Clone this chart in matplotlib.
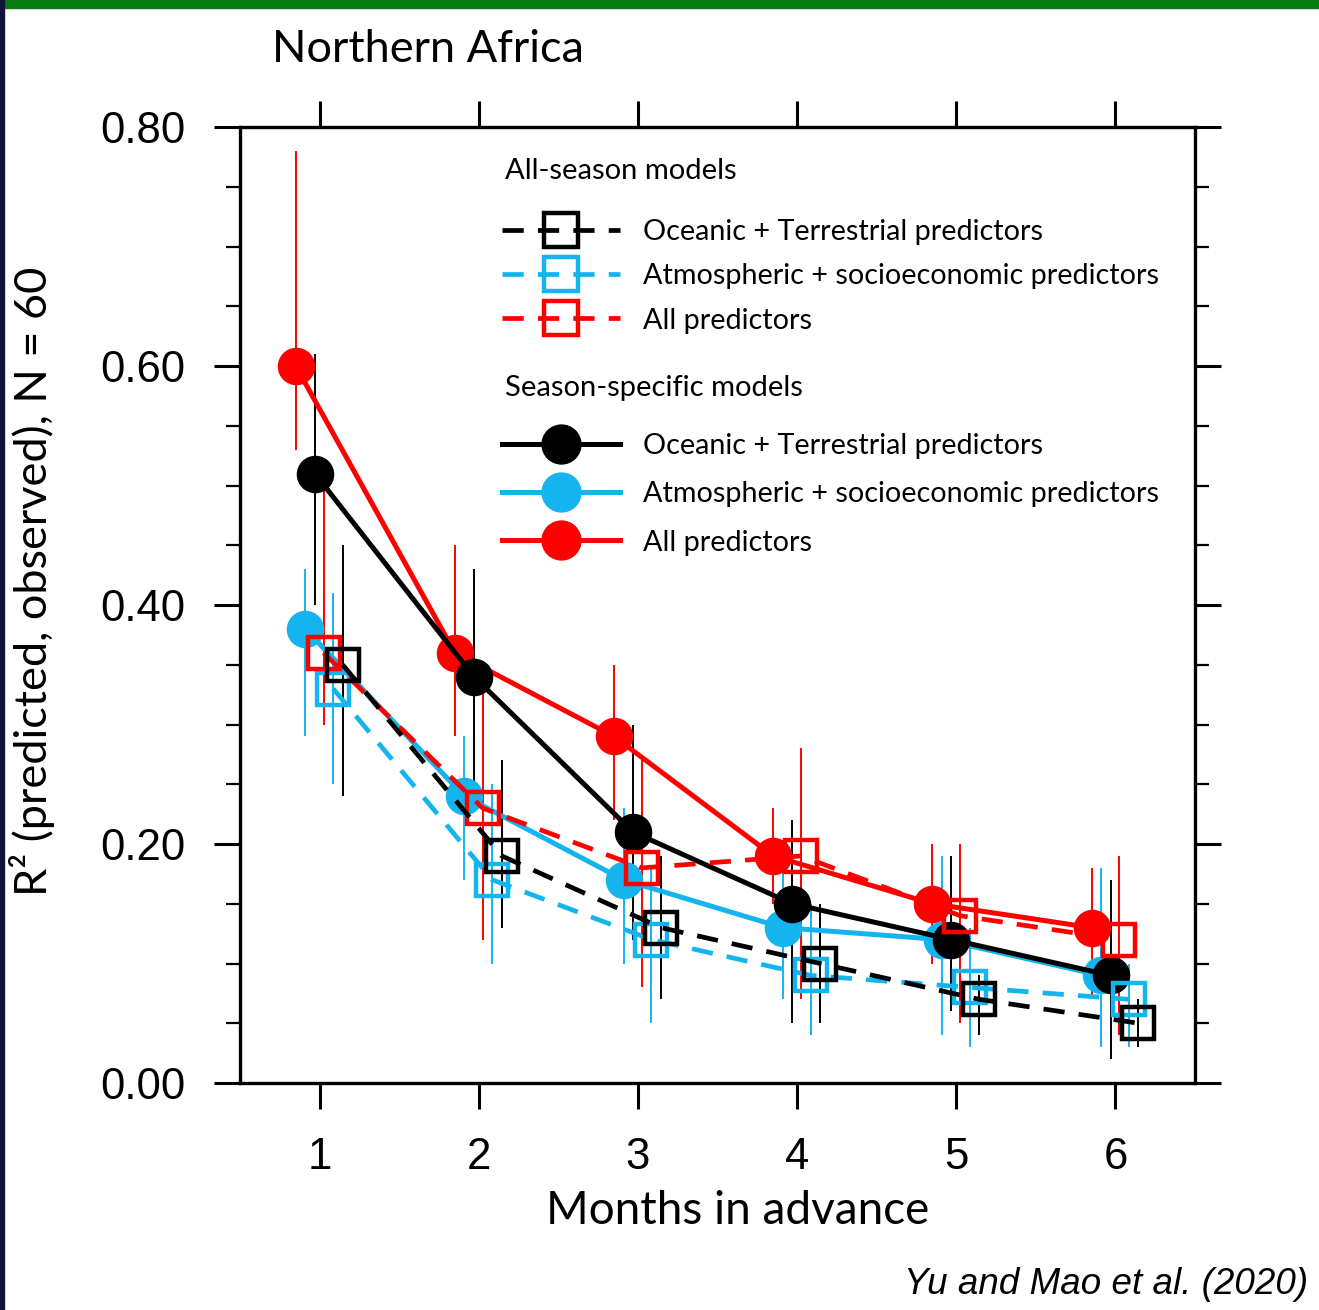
import numpy as np
import matplotlib.pyplot as plt
import matplotlib.ticker as ticker
from matplotlib.lines import Line2D
from matplotlib.patches import Rectangle

plt.rcParams['font.family'] = ['Liberation Sans', 'DejaVu Sans']
LATO = ['Lato', 'DejaVu Sans']

months = [1, 2, 3, 4, 5, 6]

# Season-specific models (filled circles, solid lines)
ss_all = [0.60, 0.36, 0.29, 0.19, 0.15, 0.13]
ss_all_lo = [0.53, 0.29, 0.22, 0.15, 0.10, 0.07]
ss_all_hi = [0.78, 0.45, 0.35, 0.23, 0.20, 0.18]

ss_atmo = [0.38, 0.24, 0.17, 0.13, 0.12, 0.09]
ss_atmo_lo = [0.29, 0.17, 0.10, 0.07, 0.04, 0.03]
ss_atmo_hi = [0.43, 0.29, 0.23, 0.20, 0.19, 0.18]

ss_ocean = [0.51, 0.34, 0.21, 0.15, 0.12, 0.09]
ss_ocean_lo = [0.40, 0.24, 0.12, 0.05, 0.06, 0.02]
ss_ocean_hi = [0.61, 0.43, 0.30, 0.22, 0.19, 0.17]

# All-season models (open squares, dashed lines)
as_all = [0.36, 0.23, 0.18, 0.19, 0.14, 0.12]
as_all_lo = [0.30, 0.12, 0.08, 0.07, 0.05, 0.04]
as_all_hi = [0.51, 0.33, 0.27, 0.28, 0.20, 0.19]

as_atmo = [0.33, 0.17, 0.12, 0.09, 0.08, 0.07]
as_atmo_lo = [0.25, 0.10, 0.05, 0.04, 0.03, 0.03]
as_atmo_hi = [0.41, 0.25, 0.18, 0.15, 0.13, 0.10]

as_ocean = [0.35, 0.19, 0.13, 0.10, 0.07, 0.05]
as_ocean_lo = [0.24, 0.13, 0.07, 0.05, 0.04, 0.03]
as_ocean_hi = [0.45, 0.27, 0.19, 0.15, 0.09, 0.07]

RED = '#ff0000'
CYAN = '#14b4ef'
BLACK = '#000000'
DASH = (0, (4.5, 3))

# label, x-offset, values, low, high, colour, filled marker?
series = [
    ('Atmospheric + socioeconomic predictors', -0.09, ss_atmo, ss_atmo_lo, ss_atmo_hi, CYAN, True),
    ('All predictors', -0.15, ss_all, ss_all_lo, ss_all_hi, RED, True),
    ('Oceanic + Terrestrial predictors', -0.03, ss_ocean, ss_ocean_lo, ss_ocean_hi, BLACK, True),
    ('Atmospheric + socioeconomic predictors', 0.085, as_atmo, as_atmo_lo, as_atmo_hi, CYAN, False),
    ('All predictors', 0.025, as_all, as_all_lo, as_all_hi, RED, False),
    ('Oceanic + Terrestrial predictors', 0.145, as_ocean, as_ocean_lo, as_ocean_hi, BLACK, False),
]

fig = plt.figure(figsize=(13.19, 13.10), dpi=100)
ax = fig.add_axes([240 / 1319, 1 - 1083 / 1310, 955 / 1319, 956 / 1310])

x = np.array(months, dtype=float)
z = 3
for label, off, y, lo, hi, col, filled in series:
    xs = x + off
    ax.vlines(xs, lo, hi, color=col, lw=1.4, zorder=2)
    if filled:
        ax.plot(xs, y, '-', color=col, lw=3.6, marker='o', ms=26,
                mfc=col, mec=col, zorder=z)
    else:
        ax.plot(xs, y, color=col, lw=3.4, ls=DASH, marker='s', ms=23.5,
                mfc='none', mec=col, mew=3.2, zorder=z)
    z += 1

ax.set_xlim(0.5, 6.5)
ax.set_ylim(0, 0.8)
ax.set_xticks(months)
ax.yaxis.set_major_locator(ticker.MultipleLocator(0.2))
ax.yaxis.set_minor_locator(ticker.MultipleLocator(0.05))
ax.yaxis.set_major_formatter(ticker.FormatStrFormatter('%.2f'))
ax.tick_params(which='major', direction='out', length=19, width=2.2,
               top=True, right=True, labelsize=31.5)
ax.tick_params(axis='y', which='major', pad=20)
ax.tick_params(axis='x', which='major', pad=20)
ax.tick_params(axis='y', which='minor', direction='out', length=10, width=1.6,
               left=True, right=True)
for s in ax.spines.values():
    s.set_linewidth(2.4)

ax.set_xlabel('Months in advance', fontsize=33, family=LATO)
ax.xaxis.set_label_coords(0.521, -0.112)
ax.set_ylabel('R² (predicted, observed), N = 60', fontsize=32.5, family=LATO)
ax.yaxis.set_label_coords(-0.194, 0.525)

# legend: two groups with their own headings
ax.text(0.2775, 0.954, 'All-season models', transform=ax.transAxes,
        fontsize=21, family=LATO, va='center', ha='left')
ax.text(0.2775, 0.727, 'Season-specific models', transform=ax.transAxes,
        fontsize=21, family=LATO, va='center', ha='left')

h_as = [Line2D([], [], color=c, lw=3.4, ls=DASH, marker='s', ms=25,
               mfc='none', mec=c, mew=3.2) for c in (BLACK, CYAN, RED)]
h_ss = [Line2D([], [], color=c, lw=3.6, marker='o', ms=28, mfc=c, mec=c)
        for c in (BLACK, CYAN, RED)]
names = ['Oceanic + Terrestrial predictors',
         'Atmospheric + socioeconomic predictors', 'All predictors']

leg1 = ax.legend(h_as, names, loc='center left', bbox_to_anchor=(0.274, 0.844),
                 frameon=False, borderpad=0, borderaxespad=0, handlelength=4.1,
                 handletextpad=0.8, labelspacing=0.64, prop={'family': LATO, 'size': 20.7})
ax.add_artist(leg1)
ax.legend(h_ss, names, loc='center left', bbox_to_anchor=(0.274, 0.616),
          frameon=False, borderpad=0, borderaxespad=0, handlelength=4.1,
          handletextpad=0.8, labelspacing=0.78, prop={'family': LATO, 'size': 20.7})

fig.text(272 / 1319, 1 - 50 / 1310, 'Northern Africa', fontsize=32.5, family=LATO,
         ha='left', va='center')
fig.text(1308 / 1319, 1 - 1285 / 1310, 'Yu and Mao et al. (2020)', fontsize=26.5,
         style='italic', ha='right', va='center')

# slide frame bits
fig.patches.append(Rectangle((0, 1 - 8 / 1310), 1, 8 / 1310, transform=fig.transFigure,
                             color='#0a7a12', zorder=0))
fig.patches.append(Rectangle((0, 0), 4 / 1319, 1, transform=fig.transFigure,
                             color='#12123c', zorder=0))

fig.savefig('out.png', dpi=100)
